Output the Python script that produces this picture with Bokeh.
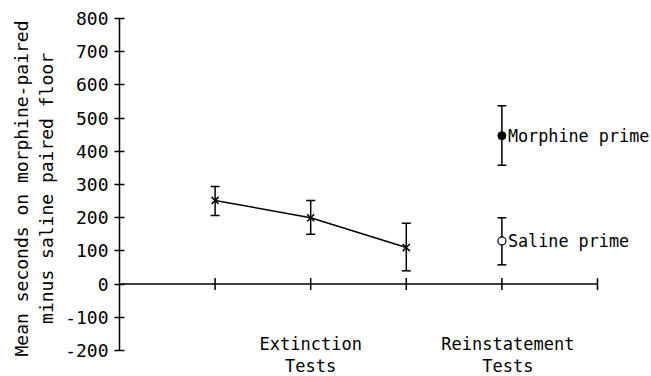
from bokeh.plotting import figure
from bokeh.models import Range1d, FixedTicker, Whisker, TeeHead, ColumnDataSource
from bokeh.core.properties import value
from bokeh.embed import file_html
from bokeh.resources import INLINE

# ---- data ----
ext_x = [1, 2, 3]
ext_mean = [252, 200, 110]
ext_upper = [294, 252, 183]
ext_lower = [207, 150, 40]

rein_x = [4]
morph_mean = [447]
morph_upper = [537]
morph_lower = [358]
sal_mean = [130]
sal_upper = [200]
sal_lower = [58]

yticks = [-200, -100, 0, 100, 200, 300, 400, 500, 600, 700, 800]
xticks = [1, 2, 3, 4, 5]
group_x = [2, 4]
group_labels = ["Extinction\nTests", "Reinstatement\nTests"]
series_labels = ["Morphine prime", "Saline prime"]

FONT = "DejaVu Sans Mono"

p = figure(width=651, height=376, x_range=Range1d(0, 5.565), y_range=Range1d(-278.3, 854.2),
           x_axis_type=None, output_backend="svg", toolbar_location=None,
           min_border_left=119, min_border_right=0, min_border_top=0, min_border_bottom=0)
p.outline_line_color = None
p.grid.grid_line_color = None
p.background_fill_color = "white"

ax = p.yaxis[0]
ax.ticker = FixedTicker(ticks=yticks)
ax.bounds = (min(yticks), max(yticks))
ax.major_label_overrides = {t: str(t) for t in yticks}
ax.major_tick_in = 5
ax.major_tick_out = 5
ax.minor_tick_line_color = None
ax.axis_line_width = 1.5
ax.major_tick_line_width = 1.5
ax.axis_line_color = "black"
ax.major_tick_line_color = "black"
ax.major_label_text_font = FONT
ax.major_label_text_font_size = "18px"
ax.major_label_text_color = "black"
ax.major_label_standoff = 6
ax.axis_label = "Mean seconds on morphine-paired\nminus saline paired floor"
ax.axis_label_text_font = FONT
ax.axis_label_text_font_size = "18px"
ax.axis_label_text_font_style = "normal"
ax.axis_label_text_color = "black"
ax.axis_label_standoff = 5

# x axis drawn at y = 0
p.segment(x0=[0], y0=[0], x1=[max(xticks)], y1=[0], line_color="black", line_width=1.5)
p.scatter(x=xticks, y=[0] * len(xticks), marker="dash", angle=1.5708, size=12,
          line_color="black", line_width=1.5)

def whisker(xs, lo, hi):
    src = ColumnDataSource(dict(x=xs, lower=lo, upper=hi))
    w = Whisker(base="x", lower="lower", upper="upper", source=src,
                line_color="black", line_width=1.5,
                upper_head=TeeHead(size=9, line_color="black", line_width=1.5),
                lower_head=TeeHead(size=9, line_color="black", line_width=1.5))
    p.add_layout(w)

whisker(ext_x, ext_lower, ext_upper)
whisker(rein_x, morph_lower, morph_upper)
whisker(rein_x, sal_lower, sal_upper)

p.line(ext_x, ext_mean, line_color="black", line_width=1.5)
p.scatter(ext_x, ext_mean, marker="x", size=10, line_color="black", line_width=1.5)
p.scatter(rein_x, morph_mean, marker="circle", size=8, fill_color="black", line_color="black")
p.scatter(rein_x, sal_mean, marker="circle", size=8, fill_color="white", line_color="black",
          line_width=1.2)

p.text(x=[rein_x[0], rein_x[0]], y=[morph_mean[0], sal_mean[0]], text=series_labels,
       x_offset=6, text_baseline="middle", text_align="left",
       text_font=value(FONT), text_font_size="16.8px", text_color="black")

p.text(x=group_x, y=[-150, -150], text=group_labels, x_offset=[0, 6],
       text_baseline="top", text_align="center", text_line_height=1.12,
       text_font=value(FONT), text_font_size="17px", text_color="black")

open("out.html", "w").write(file_html(p, INLINE))
